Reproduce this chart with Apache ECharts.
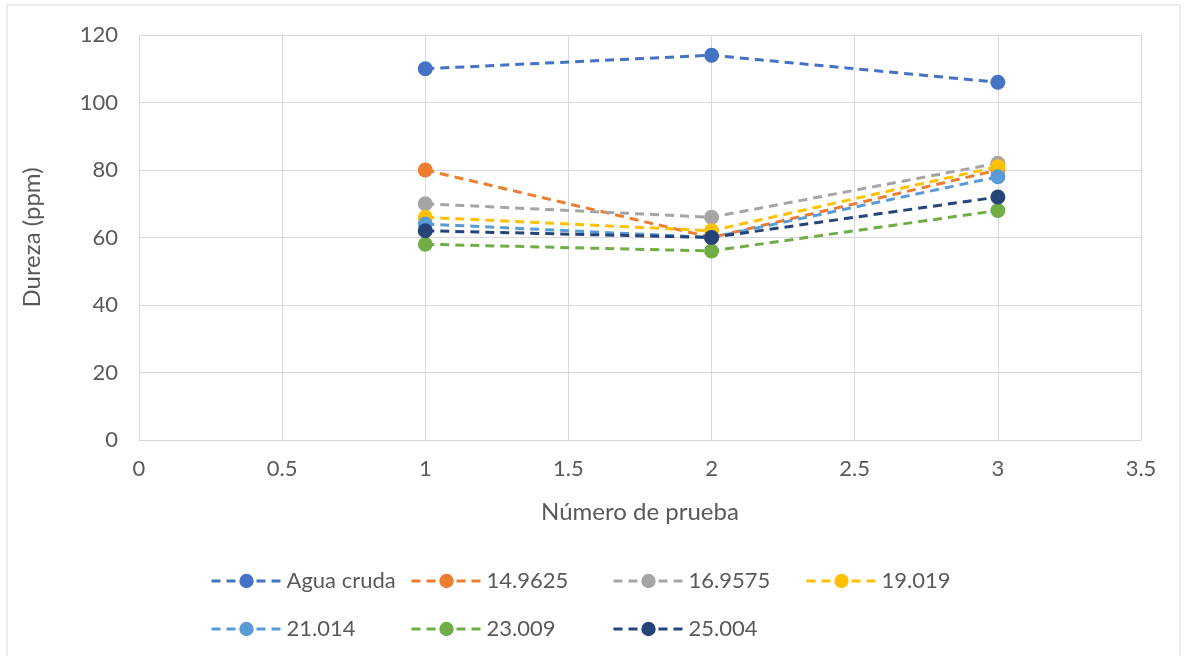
<!DOCTYPE html>
<html>
<head>
<meta charset="utf-8">
<script src="https://cdn.jsdelivr.net/npm/echarts@6/dist/echarts.min.js"></script>
<style>
  html, body { margin: 0; padding: 0; background: #fff; }
  #chart { width: 1187px; height: 656px; }
</style>
</head>
<body>
<div id="chart"></div>
<script>
// Test number (x) for each measurement
const pruebas = [1, 2, 3];

// Hardness (ppm) per series
const seriesNames = ['Agua cruda', '14.9625', '16.9575', '19.019', '21.014', '23.009', '25.004'];
const aguaCruda = [110, 114, 106];
const s149625 = [80, 60, 80];
const s169575 = [70, 66, 82];
const s19019 = [66, 62, 81];
const s21014 = [64, 60, 78];
const s23009 = [58, 56, 68];
const s25004 = [62, 60, 72];

const seriesValues = [aguaCruda, s149625, s169575, s19019, s21014, s23009, s25004];
const colors = ['#4472C4', '#ED7D31', '#A5A5A5', '#FFC000', '#5B9BD5', '#70AD47', '#264478'];

const FONT = 'Lato, "Open Sans", sans-serif';
const TEXT = '#595959';
const GRID = '#D9D9D9';

const chart = echarts.init(document.getElementById('chart'), null, { renderer: 'canvas' });

const series = seriesNames.map((name, i) => ({
  name: name,
  type: 'line',
  data: pruebas.map((x, j) => [x, seriesValues[i][j]]),
  symbol: 'circle',
  symbolSize: 15,
  color: colors[i],
  lineStyle: { width: 3, type: [9, 6], color: colors[i] },
  itemStyle: { color: colors[i] },
  emphasis: { disabled: true },
  animation: false
}));

// Legend laid out as a 4-column grid, one legend component per entry
const legendCols = [205, 405, 607, 800];
const legendRows = [565, 613];
const legends = seriesNames.map((name, i) => ({
  left: legendCols[i % 4],
  top: legendRows[Math.floor(i / 4)],
  data: [name],
  itemWidth: 70,
  itemHeight: 18,
  itemGap: 8,
  lineStyle: { width: 3 },
  textStyle: { fontFamily: FONT, fontSize: 22, color: TEXT },
  selectedMode: false
}));

chart.setOption({
  backgroundColor: '#fff',
  animation: false,
  graphic: [{
    type: 'rect',
    shape: { x: 7, y: 5, width: 1173, height: 660 },
    style: { fill: 'none', stroke: '#D9D9D9', lineWidth: 1 },
    silent: true
  }],
  grid: { left: 139, right: 46, top: 35, bottom: 216 },
  xAxis: {
    type: 'value',
    min: 0,
    max: 3.5,
    interval: 0.5,
    name: 'Número de prueba',
    nameLocation: 'middle',
    nameGap: 60,
    nameTextStyle: { fontFamily: FONT, fontSize: 24, color: TEXT },
    axisLine: { show: true, lineStyle: { color: GRID, width: 1 } },
    axisTick: { show: false },
    axisLabel: { fontFamily: FONT, fontSize: 22, color: TEXT, margin: 18 },
    splitLine: { show: true, lineStyle: { color: GRID, width: 1 } }
  },
  yAxis: {
    type: 'value',
    min: 0,
    max: 120,
    interval: 20,
    name: 'Dureza (ppm)',
    nameLocation: 'middle',
    nameGap: 95,
    nameRotate: 90,
    nameTextStyle: { fontFamily: FONT, fontSize: 24, color: TEXT },
    axisLine: { show: false },
    axisTick: { show: false },
    axisLabel: { fontFamily: FONT, fontSize: 22, color: TEXT, margin: 21 },
    splitLine: { show: true, lineStyle: { color: GRID, width: 1 } }
  },
  legend: legends,
  series: series
});
</script>
</body>
</html>
